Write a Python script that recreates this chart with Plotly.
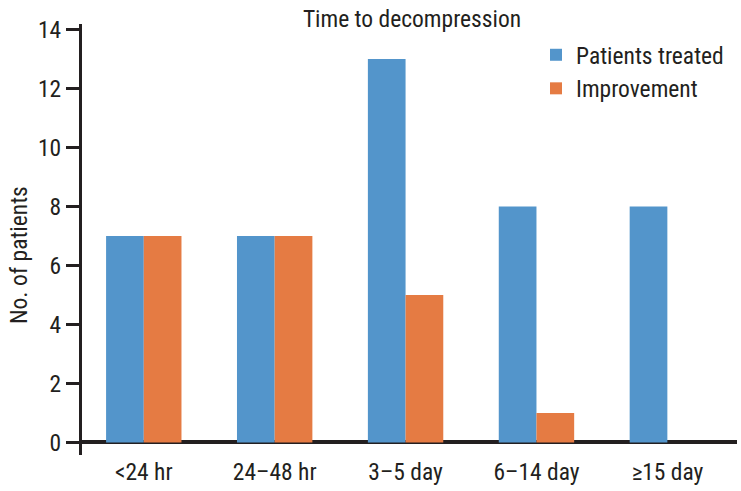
import plotly.graph_objects as go

categories = ["<24 hr", "24–48 hr", "3–5 day", "6–14 day", "≥15 day"]
patients_treated = [7, 7, 13, 8, 8]
improvement = [7, 7, 5, 1, 0]
y_ticks = [0, 2, 4, 6, 8, 10, 12, 14]

FONT = "Roboto Condensed, Liberation Sans Narrow, sans-serif"
FS = 23.5
AX = "#231f20"
BLUE = "#5395cb"
ORANGE = "#e57b43"

W, H = 741, 491
L, R, T, B = 82, 4, 24, 36

fig = go.Figure()
fig.add_trace(go.Bar(x=categories, y=patients_treated, name="Patients treated",
                     marker=dict(color=BLUE, line=dict(width=0))))
fig.add_trace(go.Bar(x=categories, y=improvement, name="Improvement",
                     marker=dict(color=ORANGE, line=dict(width=0))))

fig.update_layout(
    width=W, height=H,
    margin=dict(l=L, r=R, t=T, b=B, autoexpand=False),
    paper_bgcolor="white", plot_bgcolor="white",
    font=dict(family=FONT, size=FS, color=AX),
    barmode="group", bargap=0.424, bargroupgap=0,
    title=dict(text="Time to decompression", x=412 / W, xanchor="center",
               y=1 - 19 / H, yanchor="middle", xref="container", yref="container",
               font=dict(family=FONT, size=FS, color=AX)),
    legend=dict(x=536 / W, xref="container", xanchor="left", y=1 - 33 / H, yref="container",
                yanchor="top", bgcolor="rgba(0,0,0,0)", font=dict(family=FONT, size=FS, color=AX),
                itemclick=False, itemdoubleclick=False),
    showlegend=True,
    annotations=[dict(text="No. of patients", textangle=-90, showarrow=False,
                      xref="paper", yref="paper",
                      x=(19 - L) / (W - L - R), y=1 - (255 - T) / (H - T - B),
                      xanchor="center", yanchor="middle",
                      font=dict(family=FONT, size=FS, color=AX))],
)
fig.update_xaxes(
    type="category", range=[-0.472, 4.532], showline=False, showgrid=False,
    ticks="", ticklabelstandoff=0, tickfont=dict(family=FONT, size=FS, color=AX), automargin=False,
)
fig.update_yaxes(
    range=[-0.424, 14.186], tickvals=y_ticks, showgrid=False,
    showline=True, linecolor=AX, linewidth=3.3,
    zeroline=True, zerolinecolor=AX, zerolinewidth=3.5,
    ticks="outside", ticklen=13, tickwidth=3.3, tickcolor=AX,
    tickfont=dict(family=FONT, size=FS, color=AX), automargin=False,
)

fig.write_html("out.html", config={"displayModeBar": False},
               post_script="document.body.style.margin='0';")
